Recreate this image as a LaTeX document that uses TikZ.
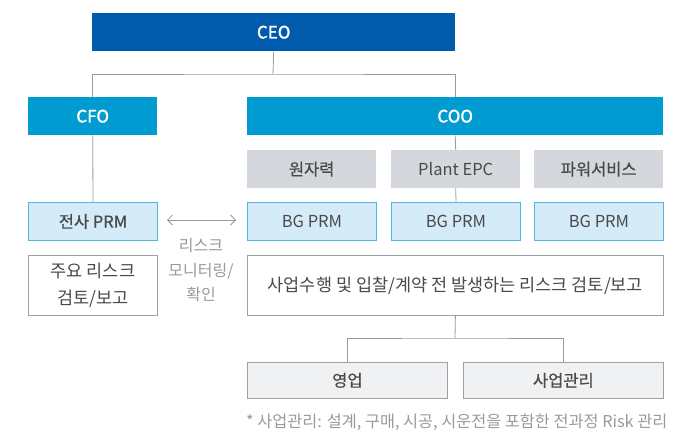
\documentclass[tikz,border=0pt]{standalone}
\usepackage{fontspec}
\setmainfont{Noto Sans CJK KR}
\newfontfamily\krmed[FakeBold=0.7]{Noto Sans CJK KR}
\newfontfamily\krsemi[FakeBold=1.4]{Noto Sans CJK KR}
\usetikzlibrary{arrows.meta}
\definecolor{ceoblue}{HTML}{005BAC}
\definecolor{cxoblue}{HTML}{009BD0}
\definecolor{grayfill}{HTML}{D4D8DC}
\definecolor{prmfill}{HTML}{D5ECF8}
\definecolor{prmline}{HTML}{4DB8E0}
\definecolor{boxline}{HTML}{A0A0A0}
\definecolor{botfill}{HTML}{F0F1F3}
\definecolor{txt}{HTML}{4A4A4A}
\definecolor{lighttxt}{HTML}{9A9A9A}
\definecolor{conn}{HTML}{999999}
\begin{document}
\begin{tikzpicture}[x=1pt,y=-1pt,
  box/.style={rectangle,inner sep=0pt,anchor=north west},
  execbox/.style={box,text=white,font=\fontsize{17}{18}\krsemi},
  unitbox/.style={box,fill=grayfill,text=txt,font=\fontsize{16.5}{18}\selectfont},
  prmbox/.style={box,fill=prmfill,draw=prmline,line width=1pt,text=txt,font=\fontsize{16.5}{18}\selectfont},
  whitebox/.style={box,fill=white,draw=boxline,line width=0.8pt,text=txt,font=\fontsize{17.5}{27}\selectfont,align=center},
  botbox/.style={box,fill=botfill,draw=boxline,line width=0.8pt,text=txt,font=\fontsize{16.5}{18}\selectfont},
  link/.style={draw=conn,line width=0.8pt}]
\useasboundingbox (0,0) rectangle (699,431);
% exec
\node[execbox,fill=ceoblue,minimum width=363pt,minimum height=38pt] (ceo) at (92,13) {CEO};
\node[execbox,fill=cxoblue,minimum width=129pt,minimum height=38pt] (cfo) at (28,97) {CFO};
\node[execbox,fill=cxoblue,minimum width=416pt,minimum height=38pt] (coo) at (247,97) {COO};
% units
\node[unitbox,minimum width=129pt,minimum height=38pt] (u1) at (247,150) {\krmed 원자력};
\node[unitbox,minimum width=129pt,minimum height=38pt] (u2) at (391,150) {Plant EPC};
\node[unitbox,minimum width=129pt,minimum height=38pt] (u3) at (534,150) {\krmed 파워서비스};
% prm
\node[prmbox,minimum width=129pt,minimum height=38pt] (p0) at (28,202) {\krmed 전사 PRM};
\node[prmbox,minimum width=129pt,minimum height=38pt] (p1) at (247,202) {BG PRM};
\node[prmbox,minimum width=129pt,minimum height=38pt] (p2) at (391,202) {BG PRM};
\node[prmbox,minimum width=129pt,minimum height=38pt] (p3) at (534,202) {BG PRM};
% white boxes
\node[whitebox,minimum width=129pt,minimum height=60pt] (w0) at (28,255) {주요 리스크\\검토/보고};
\node[whitebox,minimum width=416pt,minimum height=60pt] (w1) at (247,255) {사업수행 및 입찰/계약 전 발생하는 리스크 검토/보고};
% bottom
\node[botbox,minimum width=200pt,minimum height=36pt] (b1) at (247,362) {\krmed 영업};
\node[botbox,minimum width=200pt,minimum height=36pt] (b2) at (463,362) {\krmed 사업관리};
% connectors
\coordinate (j0) at (273,74);
\draw[link] (ceo.south) -- (j0);
\draw[link] (cfo.north) |- (j0) -| (coo.north);
\draw[link] (cfo.south) -- (p0.north);
\draw[link] (coo.south) -- (u2.north);
\draw[link] (u2.south) -- (p2.north);
\coordinate (j1) at (455,338);
\draw[link] (w1.south) -- (j1);
\draw[link] (b1.north) |- (j1) -| (b2.north);
\coordinate (a0) at (167,220);
\coordinate (a1) at (236,220);
\draw[link,{Straight Barb[length=5pt,width=10pt]}-{Straight Barb[length=5pt,width=10pt]}] (a0) -- (a1);
\node[text=lighttxt,font=\fontsize{16}{24.5}\selectfont,align=center,anchor=north] (mon) at (201,235) {리스크\\모니터링/\\확인};
\node[text=lighttxt,font=\fontsize{16.3}{18}\selectfont,anchor=west,inner sep=0pt] (fn) at (246,422) {* 사업관리: 설계, 구매, 시공, 시운전을 포함한 전과정 Risk 관리};
\end{tikzpicture}
\end{document}
